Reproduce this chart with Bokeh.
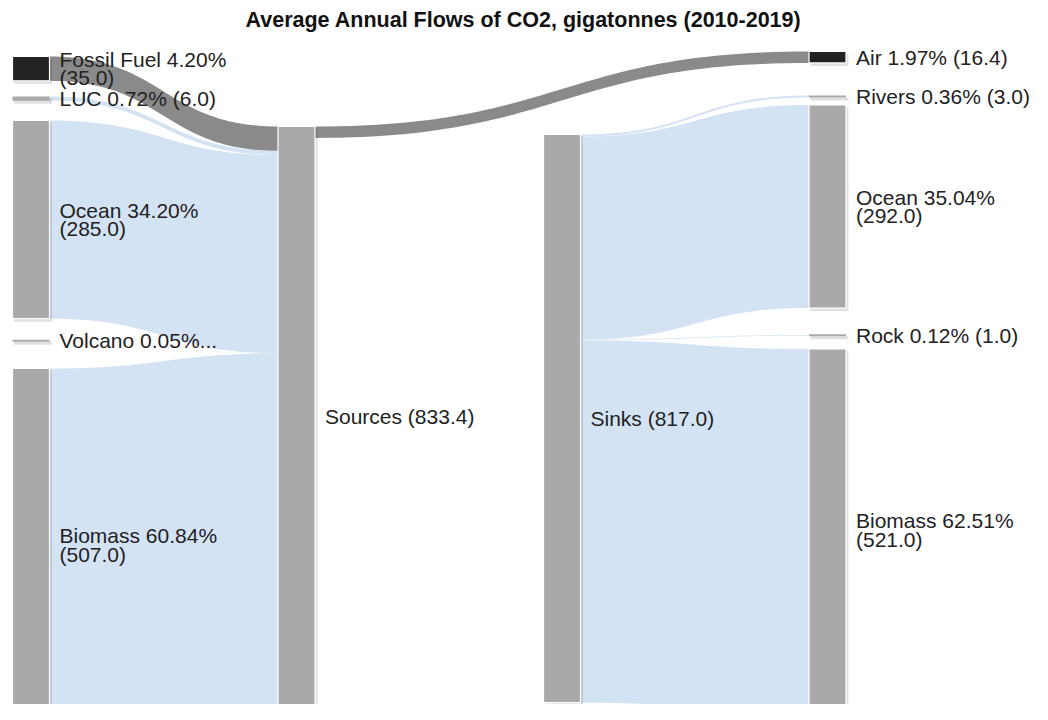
import numpy as np
from bokeh.plotting import figure
from bokeh.models import Range1d, ColumnDataSource
from bokeh.core.properties import value
from bokeh.embed import file_html
from bokeh.resources import INLINE

# ---------------- data ----------------
title_text = "Average Annual Flows of CO2, gigatonnes (2010-2019)"
source_names = ["Fossil Fuel", "LUC", "Ocean", "Volcano", "Biomass"]
source_values = [35.0, 6.0, 285.0, 0.4, 507.0]
sink_names = ["Air", "Rivers", "Ocean", "Rock", "Biomass"]
sink_values = [16.4, 3.0, 292.0, 1.0, 521.0]
hub_names = ["Sources", "Sinks"]

# ---------------- layout / style ----------------
K = 0.6955                      # px per gigatonne
col_x = [12, 277.5, 543, 808.5]
node_w = 37
left_tops = [56, 96, 120, 340, 368]
right_tops = [51, 95, 104.5, 334.5, 348.5]
hub_tops = [126, 134]
dark_left = [True, False, False, False, False]
dark_right = [True, False, False, False, False]
wrap_left = [True, False, True, False, True]
trunc_left = [False, False, False, True, False]
wrap_right = [False, False, True, False, True]
GRAY_NODE = "#a9a9a9"
DARK_NODE = "#222222"
GRAY_LINK = "#8a8a8a"
BLUE_LINK = "#d4e3f4"
FONT = "Liberation Sans"
FS = "21px"
LH = 18.5

total_sources = sum(source_values)
total_sinks = sum(sink_values[1:])

# nodes: id -> dict(x, top, h, dark)
nodes = {}
for i, n in enumerate(source_names):
    nodes["L" + n] = dict(x=col_x[0], top=left_tops[i], h=source_values[i] * K, dark=dark_left[i])
nodes["Sources"] = dict(x=col_x[1], top=hub_tops[0], h=total_sources * K, dark=False)
nodes["Sinks"] = dict(x=col_x[2], top=hub_tops[1], h=total_sinks * K, dark=False)
for i, n in enumerate(sink_names):
    nodes["R" + n] = dict(x=col_x[3], top=right_tops[i], h=sink_values[i] * K, dark=dark_right[i])

links = []
for i, n in enumerate(source_names):
    links.append(("L" + n, "Sources", source_values[i], dark_left[i]))
links.append(("Sources", "RAir", sink_values[0], True))
for i, n in enumerate(sink_names[1:], start=1):
    links.append(("Sinks", "R" + n, sink_values[i], False))

out_off = {k: 0.0 for k in nodes}
in_off = {k: 0.0 for k in nodes}

t = np.linspace(0, 1, 60)
b0 = (1 - t) ** 3 + 3 * (1 - t) ** 2 * t
b1 = 3 * (1 - t) * t ** 2 + t ** 3

blue = dict(xs=[], ys=[])
gray = dict(xs=[], ys=[])
for s, d, v, dk in links:
    ns, nd = nodes[s], nodes[d]
    th = v * K
    x0 = ns["x"] + node_w
    x1 = nd["x"]
    xm = (x0 + x1) / 2
    xx = (1 - t) ** 3 * x0 + 3 * (1 - t) ** 2 * t * xm + 3 * (1 - t) * t ** 2 * xm + t ** 3 * x1
    ya0 = ns["top"] + out_off[s]
    ya1 = nd["top"] + in_off[d]
    out_off[s] += th
    in_off[d] += th
    ytop = b0 * ya0 + b1 * ya1
    ybot = ytop + th
    tgt = gray if dk else blue
    tgt["xs"].append(list(xx) + list(xx[::-1]))
    tgt["ys"].append(list(ytop) + list(ybot[::-1]))

p = figure(width=1032, height=704, output_backend="svg", toolbar_location=None,
           x_range=Range1d(0, 1032), y_range=Range1d(704, 0), min_border=0)
p.axis.visible = False
p.grid.visible = False
p.outline_line_color = None
p.background_fill_color = "white"
p.border_fill_color = "white"

p.patches(xs="xs", ys="ys", source=ColumnDataSource(blue), fill_color=BLUE_LINK,
          line_color=None, fill_alpha=1.0)
p.patches(xs="xs", ys="ys", source=ColumnDataSource(gray), fill_color=GRAY_LINK,
          line_color=None, fill_alpha=1.0)

# node rects
nx, ny, nh, nc, nlw = [], [], [], [], []
for k, n in nodes.items():
    h = max(n["h"], 2.0)
    nx.append(n["x"] + node_w / 2)
    ny.append(n["top"] + n["h"] / 2)
    nh.append(h)
    nc.append(DARK_NODE if n["dark"] else GRAY_NODE)
    nlw.append(1.2 if n["h"] > 5 else 0)
src_nodes = ColumnDataSource(dict(x=nx, y=ny, h=nh, c=nc, lw=nlw,
                                  sx=[v + 2 for v in nx], sy=[v + 2.5 for v in ny],
                                  sh=[v + 1 for v in nh]))
p.rect(x="sx", y="sy", width=node_w + 1, height="sh", source=src_nodes,
       fill_color="black", fill_alpha=0.12, line_color=None)
p.rect(x="x", y="y", width=node_w, height="h", source=src_nodes,
       fill_color="c", line_color="white", line_width="lw")

# labels
lx, ly, lt = [], [], []


def add_label(x, yc, lines):
    n = len(lines)
    for i, ln in enumerate(lines):
        lx.append(x)
        ly.append(yc + (i - (n - 1) / 2) * LH)
        lt.append(ln)


for i, n in enumerate(source_names):
    v = source_values[i]
    nd = nodes["L" + n]
    a = f"{n} {v / total_sources * 100:.2f}%"
    b = f"({v:.1f})"
    if wrap_left[i]:
        lines = [a, b]
    elif trunc_left[i]:
        lines = [a + "..."]
    else:
        lines = [a + " " + b]
    add_label(nd["x"] + node_w + 10, nd["top"] + nd["h"] / 2, lines)
for nm, val in zip(hub_names, [total_sources, total_sinks]):
    nd = nodes[nm]
    add_label(nd["x"] + node_w + 10, nd["top"] + nd["h"] / 2, [f"{nm} ({val:.1f})"])
for i, n in enumerate(sink_names):
    v = sink_values[i]
    nd = nodes["R" + n]
    a = f"{n} {v / total_sources * 100:.2f}%"
    b = f"({v:.1f})"
    lines = [a, b] if wrap_right[i] else [a + " " + b]
    add_label(nd["x"] + node_w + 10, nd["top"] + nd["h"] / 2, lines)

p.text(x="x", y="y", text="t", source=ColumnDataSource(dict(x=lx, y=ly, t=lt)),
       text_font=value(FONT), text_font_size=FS, text_color="#222222",
       text_align="left", text_baseline="middle")

p.text(x=[523], y=[19], text=[title_text], text_font=value(FONT), text_font_size="21.5px",
       text_font_style="bold", text_color="#111111", text_align="center",
       text_baseline="middle")

open("out.html", "w").write(file_html(p, INLINE))
